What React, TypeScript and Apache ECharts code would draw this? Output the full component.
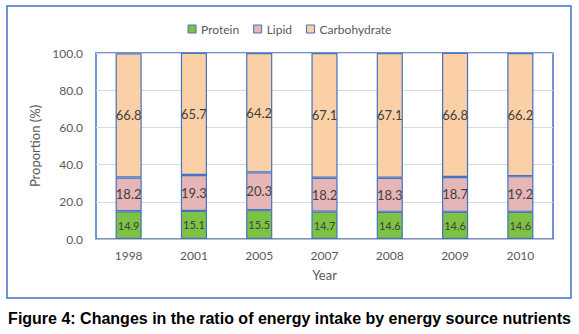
import React, { useEffect, useRef } from "react";
import * as echarts from "echarts";

const years = ["1998", "2001", "2005", "2007", "2008", "2009", "2010"];
const protein = [14.9, 15.1, 15.5, 14.7, 14.6, 14.6, 14.6];
const lipid = [18.2, 19.3, 20.3, 18.2, 18.3, 18.7, 19.2];
const carbohydrate = [66.8, 65.7, 64.2, 67.1, 67.1, 66.8, 66.2];

const FONT = "Lato, 'Open Sans', sans-serif";
const BLUE = "#4472C4";

export default function App() {
  const ref = useRef<HTMLDivElement>(null);
  useEffect(() => {
    document.body.style.margin = "0";
    const chart = echarts.init(ref.current!, null, { renderer: "svg" });
    const mk = (name: string, data: number[], color: string, fs: number) => ({
      name,
      type: "bar",
      stack: "total",
      data,
      barWidth: "40%",
      itemStyle: { color, borderColor: BLUE, borderWidth: 1.2 },
      label: {
        show: true,
        position: "inside",
        formatter: (p: any) => p.value.toFixed(1),
        color: "#404040",
        fontFamily: FONT,
        fontSize: fs,
      },
    });
    chart.setOption({
      animation: false,
      textStyle: { fontFamily: FONT },
      legend: {
        top: 18,
        left: "center",
        itemWidth: 8,
        itemHeight: 8,
        itemGap: 14,
        icon: "rect",
        textStyle: { color: "#595959", fontSize: 12, fontFamily: FONT },
        data: [
          { name: "Protein", itemStyle: { borderColor: BLUE, borderWidth: 1 } },
          { name: "Lipid", itemStyle: { borderColor: BLUE, borderWidth: 1 } },
          { name: "Carbohydrate", itemStyle: { borderColor: BLUE, borderWidth: 1 } },
        ],
      },
      grid: {
        left: 96,
        right: 26,
        top: 53,
        bottom: 95,
        show: true,
        borderColor: BLUE,
        borderWidth: 1.5,
        backgroundColor: "transparent",
      },
      xAxis: {
        type: "category",
        data: years,
        name: "Year",
        nameLocation: "middle",
        nameGap: 29,
        nameTextStyle: { color: "#595959", fontSize: 13, fontFamily: FONT },
        axisLine: { show: true, lineStyle: { color: "#BFBFBF", width: 1 } },
        axisTick: { show: false },
        axisLabel: { color: "#595959", fontSize: 12, margin: 10, fontFamily: FONT },
      },
      yAxis: {
        type: "value",
        min: 0,
        max: 100,
        interval: 20,
        name: "Proportion (%)",
        nameLocation: "middle",
        nameGap: 52,
        nameTextStyle: { color: "#595959", fontSize: 13, fontFamily: FONT },
        axisLine: { show: false },
        axisTick: { show: false },
        axisLabel: {
          color: "#595959",
          fontSize: 12,
          margin: 13,
          fontFamily: FONT,
          formatter: (v: number) => v.toFixed(1),
        },
        splitLine: { lineStyle: { color: "#D9D9D9", width: 1 } },
      },
      series: [
        mk("Protein", protein, "#7DC242", 11),
        mk("Lipid", lipid, "#E6B5B5", 13),
        mk("Carbohydrate", carbohydrate, "#FCD0A6", 13),
      ],
      graphic: [
        {
          type: "rect",
          shape: { x: 7, y: 6, width: 564, height: 292 },
          style: { fill: "none", stroke: BLUE, lineWidth: 1.5 },
          silent: true,
        },
        {
          type: "text",
          left: "center",
          top: 310,
          style: {
            text: "Figure 4: Changes in the ratio of energy intake by energy source nutrients",
            font: "bold 16px 'Liberation Sans', Arial, sans-serif",
            fill: "#000000",
          },
        },
      ],
    });
    return () => chart.dispose();
  }, []);
  return <div ref={ref} style={{ width: 579, height: 334 }} />;
}
